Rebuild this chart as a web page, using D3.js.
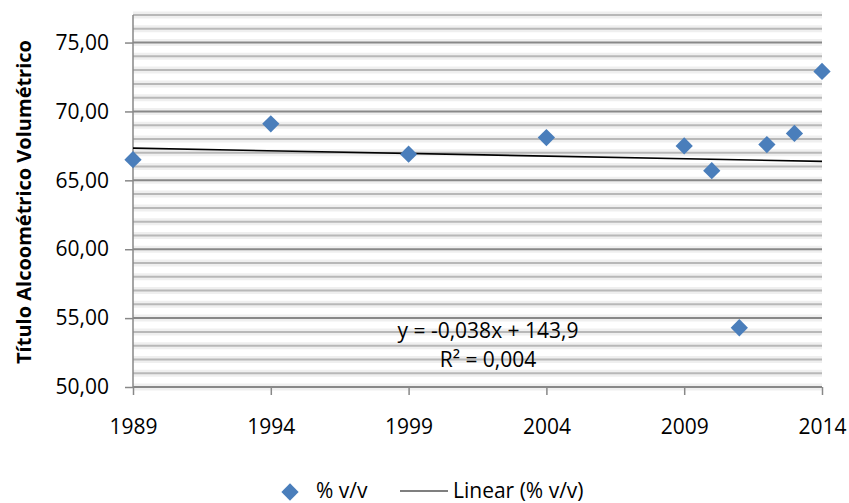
<!DOCTYPE html>
<html>
<head>
<meta charset="utf-8">
<script src="https://cdn.jsdelivr.net/npm/d3@7"></script>
<style>
  body { margin: 0; background: #fff; }
  svg { font-family: "Open Sans", "Noto Sans", sans-serif; }
</style>
</head>
<body>
<svg id="chart" width="849" height="503"></svg>
<script>
// data
const years = [1989, 1994, 1999, 2004, 2009, 2010, 2011, 2012, 2013, 2014];
const values = [66.5, 69.1, 66.9, 68.1, 67.5, 65.7, 54.3, 67.6, 68.4, 72.9];
const xTicks = [1989, 1994, 1999, 2004, 2009, 2014];
const yTicks = [50, 55, 60, 65, 70, 75];
const equationLines = ["y = -0,038x + 143,9", "R² = 0,004"];
const legendLabels = ["% v/v", "Linear (% v/v)"];
const yTitle = "Título Alcoométrico Volumétrico";

const svg = d3.select("#chart");
const margin = {top: 15, left: 133, right: 27, bottom: 116};
const width = 849 - margin.left - margin.right,
      height = 503 - margin.top - margin.bottom;

const x = d3.scaleLinear().domain([1989, 2014]).range([0, width]);
const y = d3.scaleLinear().domain([50, 77]).range([height, 0]);
const fmt = v => d3.format(".2f")(v).replace(".", ",");

const g = svg.append("g").attr("transform", "translate(" + margin.left + "," + margin.top + ")");

// gridlines, minor every 1, major every 5
const minor = d3.range(51, 78).filter(v => v % 5 !== 0);
g.selectAll(".glow").data(d3.range(50, 78)).enter().append("line")
  .attr("x1", 0).attr("x2", width)
  .attr("y1", d => y(d)).attr("y2", d => y(d))
  .attr("stroke", "#efefef").attr("stroke-width", 7);
g.selectAll(".minor").data(minor).enter().append("line")
  .attr("x1", 0).attr("x2", width)
  .attr("y1", d => y(d)).attr("y2", d => y(d))
  .attr("stroke", "#b8b8b8").attr("stroke-width", 2);
g.selectAll(".major").data(yTicks).enter().append("line")
  .attr("x1", 0).attr("x2", width)
  .attr("y1", d => y(d)).attr("y2", d => y(d))
  .attr("stroke", "#888").attr("stroke-width", 2);

// axes
const yAxis = d3.axisLeft(y).tickValues(yTicks).tickFormat(fmt).tickSize(8).tickPadding(16);
const xAxis = d3.axisBottom(x).tickValues(xTicks).tickFormat(d3.format("d")).tickSize(8).tickPadding(24);

const ya = g.append("g").call(yAxis);
const xa = g.append("g").attr("transform", "translate(0," + height + ")").call(xAxis);
[ya, xa].forEach(a => {
  a.attr("font-family", null).attr("font-size", null);
  a.select(".domain").attr("stroke", "#888").attr("stroke-width", 1.5);
  a.selectAll(".tick line").attr("stroke", "#888").attr("stroke-width", 1.5);
  a.selectAll(".tick text").attr("fill", "#000").style("font-size", "21px");
});
xa.select(".domain").attr("d", "M0,0H" + width);
ya.select(".domain").attr("d", "M0," + height + "V0");

// linear trend from the data
const mx = d3.mean(years), my = d3.mean(values);
const slope = d3.sum(years, (d, i) => (d - mx) * (values[i] - my)) / d3.sum(years, d => (d - mx) * (d - mx));
const icpt = my - slope * mx;
g.append("line")
  .attr("x1", x(1989)).attr("x2", x(2014))
  .attr("y1", y(slope * 1989 + icpt)).attr("y2", y(slope * 2014 + icpt))
  .attr("stroke", "#000").attr("stroke-width", 1.6);

// points
const diamond = d3.symbol().type(d3.symbolDiamond2).size(190);
g.selectAll(".pt").data(years).enter().append("path")
  .attr("d", diamond)
  .attr("transform", (d, i) => "translate(" + x(d) + "," + y(values[i]) + ")")
  .attr("fill", "#4a7ebb");

// equation
g.selectAll(".eq").data(equationLines).enter().append("text")
  .attr("x", 355).attr("y", (d, i) => 323 + i * 29)
  .attr("text-anchor", "middle")
  .style("font-size", "21px")
  .text(d => d);

// y title
svg.append("text")
  .attr("transform", "translate(31,202) rotate(-90)")
  .attr("text-anchor", "middle")
  .style("font-size", "20px").style("font-weight", "bold")
  .text(yTitle);

// legend
const lg = svg.append("g");
lg.append("path").attr("d", diamond).attr("transform", "translate(290,492)").attr("fill", "#4a7ebb");
lg.append("text").attr("x", 316).attr("y", 498).style("font-size", "21px").text(legendLabels[0]);
lg.append("line").attr("x1", 400).attr("x2", 448).attr("y1", 491).attr("y2", 491).attr("stroke", "#000").attr("stroke-width", 1.2);
lg.append("text").attr("x", 453).attr("y", 498).style("font-size", "21px").text(legendLabels[1]);
</script>
</body>
</html>
